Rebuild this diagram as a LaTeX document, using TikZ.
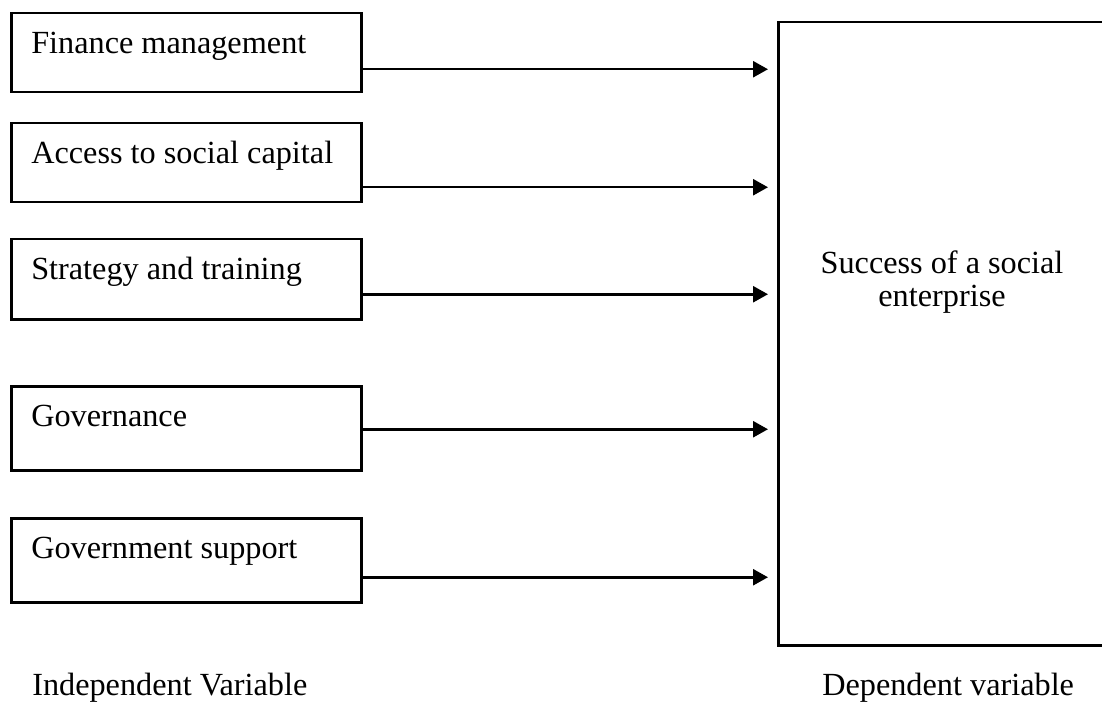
\documentclass[tikz,border=0pt]{standalone}
\usepackage{fontspec}
\setmainfont{Liberation Serif}
\usetikzlibrary{arrows.meta,calc}

\newlength{\du}
\setlength{\du}{0.75pt}

\tikzset{
  ivbox/.style={draw, line width=2.5\du, anchor=north west, align=flush left,
    text width=310\du, inner xsep=20\du, inner ysep=19\du,
    text height=21\du, text depth=#1},
  dvbox/.style={draw, line width=2.5\du, anchor=north west, inner sep=0pt,
    minimum width=330\du, minimum height=623\du},
  flow/.style={line width=2.5\du, -{Triangle[length=11.25pt,width=12pt]},
    shorten >=6.75pt},
  caption/.style={anchor=base west, inner sep=0pt}
}

\begin{document}
\begin{tikzpicture}[x=\du, y=-\du, font=\fontsize{24.2}{25.2}\selectfont]
\useasboundingbox (0,0) rectangle (1102,702);
% independent variables
\node[ivbox=20\du] (fin) at (10,12) {Finance management};
\node[ivbox=20\du] (soc) at (10,122) {Access to social capital};
\node[ivbox=21\du] (str) at (10,238) {Strategy and training};
\node[ivbox=25\du] (gov) at (10,385) {Governance};
\node[ivbox=25\du] (sup) at (10,517) {Government support};
% dependent variable
\node[dvbox] (dv) at (777,21) {};
\node[align=flush center, inner sep=0pt] (dvtext) at (942,282) {Success of a social\\enterprise};
% arrows
\draw[flow] ($(fin.east)+(0,16.5)$) coordinate (a1) -- (a1 -| dv.west);
\draw[flow] ($(soc.east)+(0,24.5)$) coordinate (a2) -- (a2 -| dv.west);
\draw[flow] ($(str.east)+(0,15)$) coordinate (a3) -- (a3 -| dv.west);
\draw[flow] ($(gov.east)+(0,1)$) coordinate (a4) -- (a4 -| dv.west);
\draw[flow] ($(sup.east)+(0,17)$) coordinate (a5) -- (a5 -| dv.west);
% captions
\node[caption] (ivcap) at (32,695) {Independent Variable};
\node[caption] (dvcap) at (822,695) {Dependent variable};
\end{tikzpicture}
\end{document}
